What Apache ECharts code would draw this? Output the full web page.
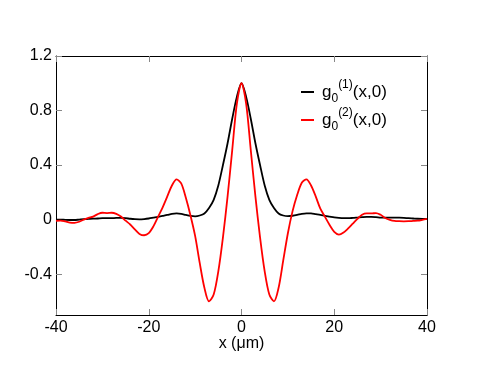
<!DOCTYPE html>
<html>
<head>
<meta charset="utf-8">
<script src="https://cdn.jsdelivr.net/npm/echarts@6/dist/echarts.min.js"></script>
<style>html,body{margin:0;padding:0;background:#fff;}#c{width:480px;height:371px;}</style>
</head>
<body>
<div id="c"></div>
<script>
var xs = [-40,-39,-38,-37,-36,-35,-34,-33,-32,-31,-30,-29,-28,-27,-26,-25,-24,-23,-22,-21,-20,-19,-18,-17,-16,-15,-14,-13,-12,-11,-10,-9,-8,-7,-6,-5,-4,-3,-2,-1,0,1,2,3,4,5,6,7,8,9,10,11,12,13,14,15,16,17,18,19,20,21,22,23,24,25,26,27,28,29,30,31,32,33,34,35,36,37,38,39,40];
var g1 = [0,0,-0.002,-0.003,-0.003,0,0.003,0.005,0.007,0.008,0.01,0.01,0.01,0.012,0.012,0.01,0.006,0.003,0.002,0.004,0.008,0.014,0.02,0.027,0.034,0.042,0.045,0.042,0.034,0.027,0.024,0.03,0.045,0.085,0.145,0.25,0.4,0.56,0.74,0.9,
  1.0,
  0.9,0.74,0.56,0.4,0.25,0.145,0.085,0.045,0.03,0.025,0.028,0.034,0.042,0.046,0.045,0.04,0.035,0.028,0.022,0.016,0.012,0.01,0.01,0.012,0.015,0.018,0.02,0.02,0.018,0.015,0.014,0.014,0.014,0.014,0.013,0.01,0.008,0.006,0.005,0.005];
var g2 = [-0.01,-0.008,-0.014,-0.022,-0.024,-0.016,0,0.012,0.022,0.04,0.05,0.048,0.05,0.042,0.022,-0.008,-0.036,-0.072,-0.105,-0.115,-0.1,-0.05,0.02,0.09,0.17,0.25,0.295,0.265,0.16,0.03,-0.12,-0.32,-0.5,-0.6,-0.55,-0.38,-0.13,0.17,0.51,0.85,
  1.0,
  0.85,0.51,0.17,-0.13,-0.38,-0.55,-0.6,-0.5,-0.3,-0.1,0.06,0.18,0.27,0.295,0.25,0.17,0.08,0.02,-0.04,-0.09,-0.11,-0.095,-0.065,-0.03,0.005,0.035,0.045,0.045,0.048,0.035,0.012,-0.002,-0.01,-0.012,-0.013,-0.012,-0.01,-0.008,-0.002,0.005];
var xTicks = [-40,-20,0,20,40];
var yTicks = [-0.4,0,0.4,0.8,1.2];
var names = ['g1','g2'];
var sups = ['(1)','(2)'];

function pairs(ys){ return xs.map(function(x,i){ return [x, ys[i]]; }); }
var FONT = "'Liberation Sans', Arial, Helvetica, sans-serif";
var chart = echarts.init(document.getElementById('c'));
var tickStyle = {show:true, inside:true, length:6, lineStyle:{color:'#888', width:1}};
var lineAx = {show:true, onZero:false, lineStyle:{color:'#000', width:1}};
chart.setOption({
  animation:false,
  backgroundColor:'#fff',
  grid:{left:56,right:53,top:56,bottom:56,containLabel:false},
  legend:{
    orient:'vertical', left:301, top:79, padding:0, itemGap:2,
    itemWidth:13, itemHeight:2, icon:'rect',
    data:names,
    formatter:function(n){ var i = names.indexOf(n); return '{g0|g}{sub|0}{sup|' + sups[i] + '}{g|(x,0)}'; },
    textStyle:{
      color:'#000', fontFamily:FONT,
      rich:{
        g0:{fontSize:17, lineHeight:26, verticalAlign:'middle', padding:[0,0,0,3], color:'#000', fontFamily:FONT},
        g:{fontSize:17, lineHeight:26, verticalAlign:'middle', color:'#000', fontFamily:FONT},
        sub:{fontSize:12, lineHeight:12, verticalAlign:'bottom', color:'#000', fontFamily:FONT},
        sup:{fontSize:12, lineHeight:12, verticalAlign:'top', color:'#000', fontFamily:FONT}
      }
    }
  },
  xAxis:[
    {type:'value', position:'bottom', min:-40, max:40, interval:20,
     axisLine:lineAx, axisTick:tickStyle, splitLine:{show:false},
     axisLabel:{color:'#000', fontSize:16, fontFamily:FONT, margin:5},
     name:'x (μm)', nameLocation:'middle', nameGap:21, nameMoveOverlap:false,
     nameTextStyle:{color:'#000', fontSize:16, fontFamily:FONT}},
    {type:'value', position:'top', min:-40, max:40, interval:20,
     axisLine:lineAx, axisTick:tickStyle, splitLine:{show:false}, axisLabel:{show:false}}
  ],
  yAxis:[
    {type:'value', position:'left', min:-0.7, max:1.2,
     axisLine:lineAx,
     axisTick:{show:true, inside:true, length:6, lineStyle:{color:'#888', width:1}, customValues:yTicks},
     splitLine:{show:false},
     axisLabel:{color:'#000', fontSize:16, fontFamily:FONT, margin:4, customValues:yTicks}},
    {type:'value', position:'right', min:-0.7, max:1.2,
     axisLine:lineAx,
     axisTick:{show:true, inside:true, length:6, lineStyle:{color:'#888', width:1}, customValues:yTicks},
     splitLine:{show:false}, axisLabel:{show:false, customValues:yTicks}}
  ],
  series:[
    {name:'g1', type:'line', data:pairs(g1), smooth:0.3, symbol:'none', showSymbol:false,
     lineStyle:{color:'#000', width:1.8}, itemStyle:{color:'#000'}, z:3},
    {name:'g2', type:'line', data:pairs(g2), smooth:0.3, symbol:'none', showSymbol:false,
     lineStyle:{color:'#ff0000', width:1.8}, itemStyle:{color:'#ff0000'}, z:4}
  ]
});
</script>
</body>
</html>
